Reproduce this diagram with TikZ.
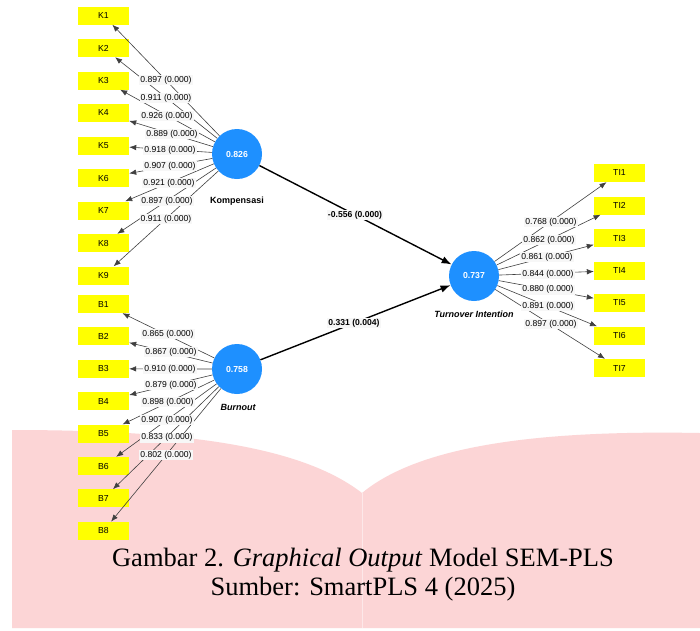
\documentclass[tikz,border=0pt]{standalone}
\usepackage{fontspec}
\setmainfont{Liberation Sans}
\newfontfamily\capfont{Liberation Serif}
\usetikzlibrary{arrows.meta}
\definecolor{pinkbg}{RGB}{252,213,214}
\definecolor{lvblue}{RGB}{30,144,255}
\definecolor{indyellow}{RGB}{255,255,0}
\definecolor{lblbg}{RGB}{247,247,247}
\begin{document}
\begin{tikzpicture}[x=1pt,y=-1pt,
 ind/.style={fill=indyellow, minimum width=51pt, minimum height=18pt, inner sep=0pt, font=\fontsize{8.7}{10}\selectfont},
 lv/.style={circle, fill=lvblue, minimum size=50pt, inner sep=0pt, text=white, font=\fontsize{8.7}{10}\selectfont\bfseries},
 lvname/.style={font=\fontsize{9}{11}\selectfont\bfseries},
 load/.style={draw=black!75, line width=0.6pt, -{Latex[length=7pt,width=5.5pt]}},
 pathc/.style={draw=black, line width=1.4pt, -{Latex[length=10pt,width=7.5pt]}},
 ll/.style={fill=lblbg, inner sep=1pt, font=\fontsize{8.6}{10}\selectfont},
 pl/.style={fill=lblbg, inner sep=1pt, font=\fontsize{8.6}{10}\selectfont\bfseries},
 captext/.style={font=\capfont\fontsize{26.5}{31}\selectfont},
]
\useasboundingbox (0,0) rectangle (700,630);
\fill[white] (0,0) rectangle (700,630);
% pink book background
\fill[pinkbg] (12,628) -- (12,430) .. controls (180,430) and (300,445) .. (362,493)
  .. controls (420,445) and (540,430) .. (700,433) -- (700,628) -- cycle;
\draw[white!45!pinkbg, line width=0.8pt] (362,493) -- (362,628);

% latent variables
\node[lv] (kc) at (237,154) {0.826};
\node[lv] (bc) at (237,369) {0.758};
\node[lv] (tc) at (474,276) {0.737};
\node[lvname] (kname) at (237,201) {Kompensasi};
\node[lvname] (bname) at (238,407) {\itshape Burnout};
\node[lvname] (tname) at (474,314) {\itshape Turnover Intention};

% indicators
\foreach \i/\y in {1/15.5,2/48,3/80.5,4/113,5/145.5,6/178,7/210.5,8/243,9/275.5}
  \node[ind] (k\i) at (103.5,\y) {K\i};
\foreach \i/\y in {1/304,2/336.4,3/368.8,4/401.2,5/433.6,6/466,7/498.4,8/530.8}
  \node[ind] (b\i) at (103.5,\y) {B\i};
\foreach \i/\y in {1/173,2/205.5,3/238,4/270.5,5/303,6/335.5,7/368}
  \node[ind] (t\i) at (619.5,\y) {TI\i};

% loading arrows
\foreach \i in {1,...,9} \draw[load] (kc) -- (k\i);
\foreach \i in {1,...,8} \draw[load] (bc) -- (b\i);
\foreach \i in {1,...,7} \draw[load] (tc) -- (t\i);

% structural paths
\draw[pathc] (kc) -- (tc);
\draw[pathc] (bc) -- (tc);
\node[pl] (pk) at (355,215) {-0.556 (0.000)};
\node[pl] (pb) at (354,323) {0.331 (0.004)};

% loading labels
\node[ll] (lk1) at (166,80) {0.897 (0.000)};
\node[ll] (lk2) at (166,98) {0.911 (0.000)};
\node[ll] (lk3) at (167,116) {0.926 (0.000)};
\node[ll] (lk4) at (172,134) {0.889 (0.000)};
\node[ll] (lk5) at (170,150) {0.918 (0.000)};
\node[ll] (lk6) at (170,166) {0.907 (0.000)};
\node[ll] (lk7) at (169,183) {0.921 (0.000)};
\node[ll] (lk8) at (167,201) {0.897 (0.000)};
\node[ll] (lk9) at (166,219) {0.911 (0.000)};

\node[ll] (lb1) at (168,334) {0.865 (0.000)};
\node[ll] (lb2) at (171,352) {0.867 (0.000)};
\node[ll] (lb3) at (170,369) {0.910 (0.000)};
\node[ll] (lb4) at (171,385) {0.879 (0.000)};
\node[ll] (lb5) at (168,402) {0.898 (0.000)};
\node[ll] (lb6) at (167,420) {0.907 (0.000)};
\node[ll] (lb7) at (167,437.5) {0.833 (0.000)};
\node[ll] (lb8) at (166,455) {0.802 (0.000)};

\node[ll] (lt1) at (551,222) {0.768 (0.000)};
\node[ll] (lt2) at (549,240) {0.862 (0.000)};
\node[ll] (lt3) at (547,257) {0.861 (0.000)};
\node[ll] (lt4) at (548,274) {0.844 (0.000)};
\node[ll] (lt5) at (548,289.5) {0.880 (0.000)};
\node[ll] (lt6) at (548,306) {0.891 (0.000)};
\node[ll] (lt7) at (551,324) {0.897 (0.000)};

% caption
\node[captext] (cap1) at (363,560) {Gambar 2. \textit{Graphical Output} Model SEM-PLS};
\node[captext] (cap2) at (363,589) {Sumber: SmartPLS 4 (2025)};
\end{tikzpicture}
\end{document}
